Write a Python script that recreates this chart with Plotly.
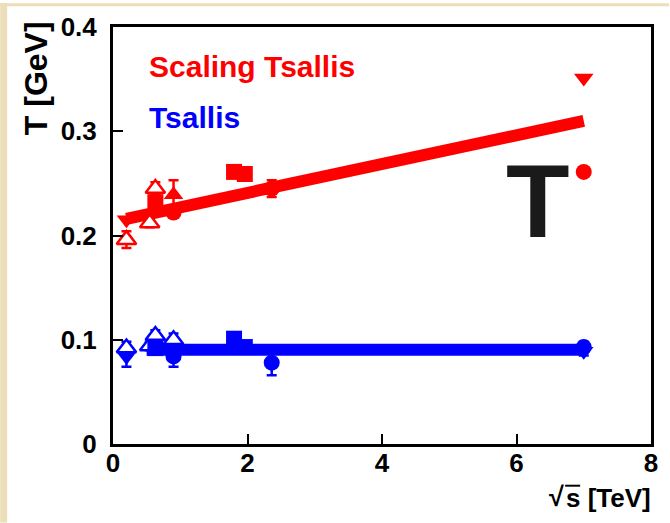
import plotly.graph_objects as go

# Scaling Tsallis temperatures (red)
r_dtri_x = [0.2, 7.0]
r_dtri_y = [0.215, 0.351]
r_otri_x = [0.2, 0.546, 0.63]
r_otri_y = [0.196, 0.212, 0.245]
r_otri_e = [0.008, 0.004, 0.006]
r_sq_x = [0.63, 1.8, 1.96]
r_sq_y = [0.232, 0.261, 0.259]
r_tri_x = [0.9]
r_tri_y = [0.239]
r_tri_e = [0.014]
r_circ_x = [0.9, 2.36, 7.0]
r_circ_y = [0.222, 0.245, 0.261]
r_circ_e = [0.005, 0.008, 0.0]
r_fit_x = [0.2, 7.0]
r_fit_y = [0.216, 0.310]

# Tsallis temperatures (blue)
b_dtri_x = [0.2, 7.0]
b_dtri_y = [0.084, 0.089]
b_dtri_e = [0.01, 0.004]
b_otri_x = [0.2, 0.546, 0.63, 0.9]
b_otri_y = [0.092, 0.094, 0.104, 0.100]
b_otri_e = [0.006, 0.004, 0.005, 0.006]
b_sq_x = [0.63, 1.8, 1.96]
b_sq_y = [0.092, 0.101, 0.093]
b_circ_x = [0.9, 2.36, 7.0]
b_circ_y = [0.084, 0.078, 0.093]
b_circ_e = [0.01, 0.012, 0.005]
b_fit_x = [0.5, 7.0]
b_fit_y = [0.0905, 0.0905]

RED = "#ff0000"
BLUE = "#0000ff"
FONT = "Liberation Sans"
BEIGE = "#ebdeb8"

# Plot frame in pixels
L, R, T, B = 113, 652, 24, 444
W, H = 670, 523
px_to_x = lambda px: (px - L) / (R - L)
px_to_y = lambda py: (B - py) / (B - T)

fig = go.Figure()

fig.add_trace(go.Scatter(x=r_fit_x, y=r_fit_y, mode="lines",
                         line=dict(color=RED, width=12)))
fig.add_trace(go.Scatter(x=b_fit_x, y=b_fit_y, mode="lines",
                         line=dict(color=BLUE, width=12)))


def pts(x, y, color, symbol, size=16, err=None, fill=None):
    marker = dict(symbol=symbol, size=size, color=fill or color,
                  line=dict(color=color, width=2.5 if fill else 0))
    trace = go.Scatter(x=x, y=y, mode="markers", marker=marker)
    if err is not None:
        trace.error_y = dict(type="data", array=err, color=color,
                             thickness=2.5, width=5)
    fig.add_trace(trace)


pts(r_dtri_x, r_dtri_y, RED, "triangle-down", 17)
pts(r_otri_x, r_otri_y, RED, "triangle-up", 17, r_otri_e, fill="white")
pts(r_sq_x, r_sq_y, RED, "square", 16)
pts(r_tri_x, r_tri_y, RED, "triangle-up", 17, r_tri_e)
pts(r_circ_x, r_circ_y, RED, "circle", 16, r_circ_e)

pts(b_dtri_x, b_dtri_y, BLUE, "triangle-down", 17, b_dtri_e)
pts(b_otri_x, b_otri_y, BLUE, "triangle-up", 17, b_otri_e, fill="white")
pts(b_sq_x, b_sq_y, BLUE, "square", 16)
pts(b_circ_x, b_circ_y, BLUE, "circle", 16, b_circ_e)

axis_common = dict(showline=True, mirror=True, linecolor="black", linewidth=3,
                   ticks="inside", ticklen=10, tickwidth=2, tickcolor="black",
                   showgrid=False, zeroline=False,
                   tickfont=dict(family=FONT, size=26, color="black", weight="bold"))

fig.update_xaxes(range=[0, 8], tickvals=[0, 2, 4, 6, 8],
                 ticklabelstandoff=-6, **axis_common)
fig.update_yaxes(range=[0, 0.4], tickvals=[0, 0.1, 0.2, 0.3, 0.4],
                 ticktext=["0", "0.1", "0.2", "0.3", "0.4"],
                 ticklabelstandoff=8, **axis_common)

fig.update_layout(
    width=W, height=H,
    margin=dict(l=L, r=W - R, t=T, b=H - B),
    paper_bgcolor="white", plot_bgcolor="white",
    showlegend=False,
    shapes=[
        dict(type="rect", xref="paper", yref="paper", layer="below",
             x0=px_to_x(0), x1=px_to_x(7), y0=px_to_y(H), y1=px_to_y(0),
             fillcolor=BEIGE, line=dict(width=0)),
        dict(type="rect", xref="paper", yref="paper", layer="below",
             x0=px_to_x(0), x1=px_to_x(W), y0=px_to_y(3), y1=px_to_y(0),
             fillcolor=BEIGE, line=dict(width=0)),
        # overline of the square root
        dict(type="line", xref="paper", yref="paper",
             x0=px_to_x(566), x1=px_to_x(581), y0=px_to_y(486), y1=px_to_y(486),
             line=dict(color="black", width=2)),
    ],
)

fig.add_annotation(text="Scaling Tsallis", x=px_to_x(147), y=px_to_y(64),
                   xref="paper", yref="paper", xanchor="left", yanchor="middle",
                   showarrow=False,
                   font=dict(family=FONT, size=30, color=RED, weight="bold"))
fig.add_annotation(text="Tsallis", x=px_to_x(147), y=px_to_y(115),
                   xref="paper", yref="paper", xanchor="left", yanchor="middle",
                   showarrow=False,
                   font=dict(family=FONT, size=30, color=BLUE, weight="bold"))
fig.add_annotation(text="T [GeV]", textangle=-90, xref="paper", yref="paper",
                   x=px_to_x(36), y=px_to_y(16), xanchor="center", yanchor="top",
                   showarrow=False,
                   font=dict(family=FONT, size=32, color="black", weight="bold"))
fig.add_annotation(text="s [TeV]", xref="paper", yref="paper",
                   x=px_to_x(654), y=px_to_y(498), xanchor="right", yanchor="middle",
                   showarrow=False,
                   font=dict(family=FONT, size=26, color="black", weight="bold"))
fig.add_annotation(text="√", xref="paper", yref="paper",
                   x=px_to_x(567), y=px_to_y(497), xanchor="right", yanchor="middle",
                   showarrow=False,
                   font=dict(family=FONT, size=27, color="black", weight="bold"))
fig.add_annotation(text="T", xref="paper", yref="paper",
                   x=px_to_x(539), y=px_to_y(199), xanchor="center", yanchor="middle",
                   showarrow=False,
                   font=dict(family=FONT, size=104, color="#1a1a1a", weight="bold"))

fig.write_html("out.html")
